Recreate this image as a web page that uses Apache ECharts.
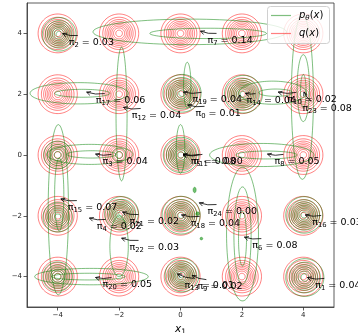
<!DOCTYPE html>
<html><head><meta charset="utf-8">
<script src="https://cdn.jsdelivr.net/npm/echarts@6/dist/echarts.min.js"></script>
<style>html,body{margin:0;padding:0;background:#fff}#c{width:358px;height:333px}</style>
</head><body><div id="c"></div>
<script>
// ---- axes ----
const xTicks = [-4, -2, 0, 2, 4];
const yTicks = [-4, -2, 0, 2, 4];

// ---- q(x): uniform Gaussian mixture on a 5x5 grid ----
const qMeansX = [-4, -2, 0, 2, 4];
const qMeansY = [-4, -2, 0, 2, 4];
const qSigma = 0.3;
const qLevels = [1, 2, 3, 4, 5, 6, 7, 8, 9];
const qPeak = 9.6;

// ---- p_theta(x): near-round components (centre, outer radius, number of contour rings) ----
const pRoundX = [-3.95, 0.05, 2.05, -4.0, -2.0, 0.02, -4.0, -1.92, 0.02, 4.03, -4.0, 0.05, 4.05];
const pRoundY = [3.97, 2.03, 2.0, 0.0, 0.0, 0.0, -2.05, -1.92, -1.98, -1.97, -4.0, -3.95, -4.03];
const pRoundR = [0.55, 0.62, 0.62, 0.45, 0.22, 0.58, 0.48, 0.55, 0.62, 0.6, 0.48, 0.55, 0.62];
const pRoundN = [8, 9, 9, 5, 2, 9, 6, 9, 9, 9, 6, 9, 7];

// ---- p_theta(x): elongated contour rings (centre, semi-axes) ----
const pEllX  = [0.3, 0.9, -1.92, 3.97, 4.0, 4.0, -3.3, -3.2, 3.0, 3.1, -2.95, -2.9, 2.65, 2.8, -3.98, -3.95, -2.0, -2.9, -3.0, 2.02, 2.02, 2.02, 0.22, 0.0];
const pEllY  = [4.05, 4.0, 1.35, 1.9, 2.2, 2.1, 2.03, 2.03, 2.05, 2.05, 0.02, 0.02, 0.0, 0.0, -1.8, -1.3, -3.0, -4.0, -4.0, -2.6, -2.65, -2.75, 2.3, 0.2];
const pEllRX = [3.15, 1.9, 0.18, 0.36, 0.2, 0.09, 1.6, 0.9, 1.1, 0.55, 1.4, 0.8, 1.7, 1.0, 0.33, 0.15, 0.3, 1.85, 1.2, 0.52, 0.28, 0.13, 0.12, 0.14];
const pEllRY = [0.42, 0.17, 2.2, 2.7, 1.1, 0.55, 0.35, 0.13, 0.38, 0.12, 0.33, 0.12, 0.38, 0.13, 2.8, 1.2, 1.0, 0.27, 0.11, 2.2, 1.6, 0.9, 0.75, 0.8];

// ---- p_theta(x): tiny components ----
const pDotX  = [0.46, 0.56, 0.68];
const pDotY  = [-1.15, -1.93, -2.75];
const pDotRX = [0.05, 0.06, 0.045];
const pDotRY = [0.09, 0.06, 0.045];

// ---- annotations: mixture weights pi_k ----
const annIdx = [2, 7, 17, 12, 19, 0, 14, 10, 23, 3, 5, 11, 8, 15, 4, 21, 22, 24, 18, 6, 16, 1, 20, 13, 9];
const annVal = ['0.03','0.14','0.06','0.04','0.04','0.01','0.04','0.02','0.08','0.04','0.08','0.00','0.05','0.07','0.02','0.02','0.03','0.00','0.04','0.08','0.03','0.04','0.05','0.01','0.02'];
const annTipX = [-3.87, 0.62, -3.09, -1.89, 0.06, 0.2, 2.08, 3.15, 4.0, -2.8, 0.05, 0.05, 2.8, -3.93, -3.0, -1.92, -1.95, 0.58, 0.0, 2.05, 4.03, 4.1, -2.8, -0.13, 0.35];
const annTipY = [4.0, 4.08, 2.07, 1.57, 2.07, 1.65, 2.03, 2.07, 2.1, 0.03, 0.03, 0.0, 0.03, -1.44, -2.07, -1.87, -2.73, -1.57, -1.97, -2.7, -1.97, -4.03, -4.03, -3.9, -3.95];
const annTextX = [-3.64, 0.88, -2.76, -1.59, 0.39, 0.49, 2.15, 3.48, 3.97, -2.54, 0.33, 0.42, 3.06, -3.67, -2.73, -1.66, -1.66, 0.88, 0.33, 2.34, 4.29, 4.39, -2.54, 0.13, 0.55];
const annTextY = [3.70, 3.77, 1.79, 1.30, 1.83, 1.37, 1.79, 1.83, 1.53, -0.21, -0.21, -0.21, -0.21, -1.73, -2.35, -2.19, -3.04, -1.86, -2.25, -2.98, -2.22, -4.29, -4.26, -4.29, -4.33];

const FONT = 'DejaVu Sans';
const RED = 'rgba(255,0,0,0.5)';
const GREEN = 'rgba(0,128,0,0.5)';

// build ring data
const qRings = [];
qMeansX.forEach(mx => qMeansY.forEach(my => {
  qLevels.forEach(l => {
    const r = qSigma * Math.sqrt(2 * Math.log(qPeak / l));
    qRings.push([mx, my, r, r]);
  });
}));
const pRings = [];
pRoundX.forEach((cx, i) => {
  const n = pRoundN[i], P = n + 0.6;
  for (let k = 1; k <= n; k++) {
    const s = pRoundR[i] * Math.sqrt(Math.log(P / k) / Math.log(P));
    pRings.push([cx, pRoundY[i], s, s]);
  }
});
pEllX.forEach((cx, i) => pRings.push([cx, pEllY[i], pEllRX[i], pEllRY[i]]));
const pDots = pDotX.map((x, i) => [x, pDotY[i], pDotRX[i], pDotRY[i]]);

function ellipseRender(stroke, fill) {
  return function (params, api) {
    const cx = api.value(0), cy = api.value(1), rx = api.value(2), ry = api.value(3);
    const pts = [];
    for (let i = 0; i < 90; i++) {
      const t = i / 90 * 2 * Math.PI;
      pts.push(api.coord([cx + rx * Math.cos(t), cy + ry * Math.sin(t)]));
    }
    return { type: 'polygon', shape: { points: pts },
      style: { fill: fill || 'none', stroke: stroke, lineWidth: fill ? 0.6 : 1 } };
  };
}

const annData = annIdx.map((k, i) => [annTipX[i], annTipY[i], annTextX[i], annTextY[i]]);
function annRender(params, api) {
  const i = params.dataIndex;
  const tip = api.coord([api.value(0), api.value(1)]);
  const tp = api.coord([api.value(2), api.value(3)]);
  const tail = [tp[0] + 9, tp[1] - 7];
  const dx = tip[0] - tail[0], dy = tip[1] - tail[1];
  const L = Math.hypot(dx, dy) || 1;
  const ux = dx / L, uy = dy / L;
  const end = [tip[0] - ux * 1, tip[1] - uy * 1];
  const ctrl = [(tail[0] + end[0]) / 2 + 0.12 * dy, (tail[1] + end[1]) / 2 - 0.12 * dx];
  let hx = end[0] - ctrl[0], hy = end[1] - ctrl[1];
  const hl = Math.hypot(hx, hy) || 1; hx /= hl; hy /= hl;
  const hs = 4.5, a = 0.45;
  const h1 = [end[0] - hs * (hx * Math.cos(a) - hy * Math.sin(a)), end[1] - hs * (hy * Math.cos(a) + hx * Math.sin(a))];
  const h2 = [end[0] - hs * (hx * Math.cos(-a) - hy * Math.sin(-a)), end[1] - hs * (hy * Math.cos(-a) + hx * Math.sin(-a))];
  return { type: 'group', children: [
    { type: 'bezierCurve', shape: { x1: tail[0], y1: tail[1], x2: end[0], y2: end[1], cpx1: ctrl[0], cpy1: ctrl[1] },
      style: { stroke: '#000', lineWidth: 0.8, fill: 'none' } },
    { type: 'polyline', shape: { points: [h1, end, h2] }, style: { stroke: '#000', lineWidth: 0.8, fill: 'none' } },
    { type: 'text', style: {
        x: tp[0], y: tp[1], text: '{a|π}{s|' + annIdx[i] + '}{a| = ' + annVal[i] + '}',
        verticalAlign: 'middle', align: 'left', fill: '#000',
        rich: {
          a: { fontFamily: FONT, fontSize: 9.5, lineHeight: 12, verticalAlign: 'middle', fill: '#000' },
          s: { fontFamily: FONT, fontSize: 6.8, lineHeight: 7, verticalAlign: 'bottom', fill: '#000' }
        } } }
  ] };
}

const chart = echarts.init(document.getElementById('c'), null, { renderer: 'canvas' });
const axisCommon = {
  type: 'value', min: -5, max: 5,
  splitLine: { show: false },
  axisLine: { show: true, onZero: false, lineStyle: { color: '#333', width: 0.8 } },
  axisTick: { show: true, length: 3.5, lineStyle: { color: '#333', width: 0.8 } },
};
const nameRich = {
  i: { fontFamily: FONT, fontStyle: 'italic', fontSize: 10.5, lineHeight: 13, verticalAlign: 'middle', color: '#000' },
  s: { fontFamily: FONT, fontSize: 7.5, lineHeight: 8, verticalAlign: 'bottom', color: '#000' }
};
chart.setOption({
  animation: false,
  backgroundColor: '#fff',
  grid: { left: 27, right: 24, top: 3, bottom: 26, outerBoundsMode: 'none', containLabel: false,
    show: true, borderColor: '#333', borderWidth: 0.8, backgroundColor: 'transparent' },
  xAxis: Object.assign({}, axisCommon, {
    axisTick: Object.assign({}, axisCommon.axisTick, { customValues: xTicks }),
    axisLabel: { customValues: xTicks, fontFamily: FONT, fontSize: 7, color: '#222', margin: 5,
      formatter: v => String(v).replace('-', '\u2212') },
    name: '{i|x}{s|1}', nameLocation: 'middle', nameGap: 16,
    nameTextStyle: { rich: nameRich }
  }),
  yAxis: Object.assign({}, axisCommon, {
    axisTick: Object.assign({}, axisCommon.axisTick, { customValues: yTicks }),
    axisLabel: { customValues: yTicks, fontFamily: FONT, fontSize: 7, color: '#222', margin: 5,
      formatter: v => String(v).replace('-', '\u2212') },
    name: '{i|x}{s|2}', nameLocation: 'middle', nameGap: 15, nameRotate: 90,
    nameTextStyle: { rich: nameRich }
  }),
  series: [
    { type: 'custom', name: 'q(x)', data: qRings, encode: { x: 0, y: 1 }, clip: true, silent: true, renderItem: ellipseRender(RED) },
    { type: 'custom', name: 'p(x)', data: pRings, encode: { x: 0, y: 1 }, clip: true, silent: true, renderItem: ellipseRender(GREEN) },
    { type: 'custom', name: 'pdots', data: pDots, encode: { x: 0, y: 1 }, clip: true, silent: true, renderItem: ellipseRender('rgba(0,128,0,0.6)', 'rgba(0,140,0,0.55)') },
    { type: 'custom', name: 'ann', data: annData, encode: { x: 0, y: 1 }, clip: false, silent: true, z: 5, renderItem: annRender }
  ],
  graphic: [
    { type: 'rect', z: 10, shape: { x: 267.5, y: 6.5, width: 62, height: 37, r: 3 },
      style: { fill: 'rgba(255,255,255,0.8)', stroke: '#d0d0d0', lineWidth: 1 } },
    { type: 'line', z: 11, shape: { x1: 271, y1: 15.5, x2: 291, y2: 15.5 }, style: { stroke: GREEN, lineWidth: 1.2 } },
    { type: 'line', z: 11, shape: { x1: 271, y1: 33.5, x2: 291, y2: 33.5 }, style: { stroke: RED, lineWidth: 1.2 } },
    { type: 'text', z: 11, style: { x: 299, y: 15.5, verticalAlign: 'middle', align: 'left',
      text: '{i|p}{s|θ}{n|(}{i|x}{n|)}',
      rich: { i: { fontFamily: FONT, fontStyle: 'italic', fontSize: 10, lineHeight: 12, verticalAlign: 'middle', fill: '#000' },
              n: { fontFamily: FONT, fontSize: 10, lineHeight: 12, verticalAlign: 'middle', fill: '#000' },
              s: { fontFamily: FONT, fontStyle: 'italic', fontSize: 7, lineHeight: 7, verticalAlign: 'bottom', fill: '#000' } } } },
    { type: 'text', z: 11, style: { x: 299, y: 33.5, verticalAlign: 'middle', align: 'left',
      text: '{i|q}{n|(}{i|x}{n|)}',
      rich: { i: { fontFamily: FONT, fontStyle: 'italic', fontSize: 10, lineHeight: 12, verticalAlign: 'middle', fill: '#000' },
              n: { fontFamily: FONT, fontSize: 10, lineHeight: 12, verticalAlign: 'middle', fill: '#000' } } } }
  ]
});
</script>
</body></html>
